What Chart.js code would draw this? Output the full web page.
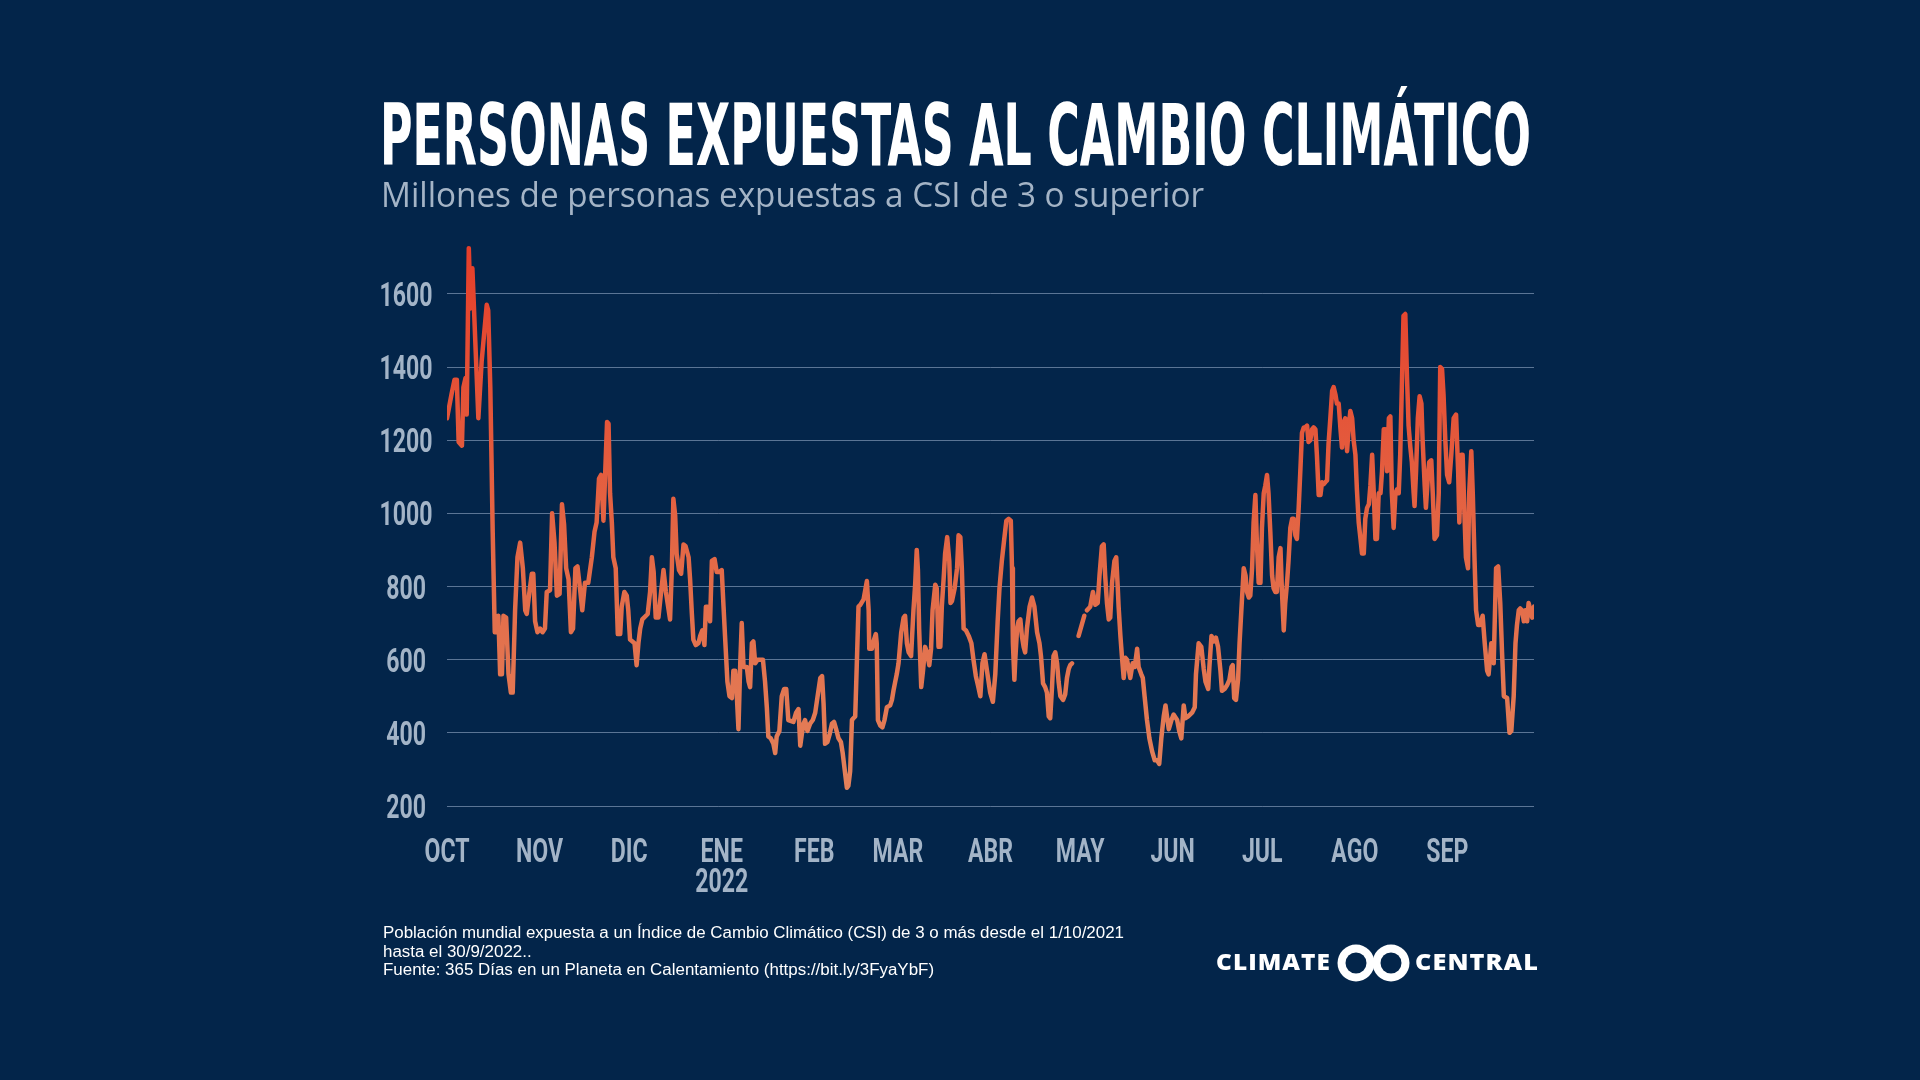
<!DOCTYPE html>
<html>
<head>
<meta charset="utf-8">
<script src="https://cdn.jsdelivr.net/npm/chart.js@4.4.0/dist/chart.umd.min.js"></script>
<style>
  body { margin: 0; background: #03254a; }
  #page { position: relative; width: 1920px; height: 1080px; background: #03254a; overflow: hidden; }
  #chart { position: absolute; left: 0; top: 0; }
  .fit { position: absolute; white-space: nowrap; transform-origin: 0 0; }
  #title { left: 380px; top: 92px; font: bold 86px "Liberation Sans Narrow", "DejaVu Sans Condensed", sans-serif; line-height: 1; color: #fff; }
  #subtitle { left: 381px; top: 176px; font: 35px "Open Sans", sans-serif; line-height: 1; color: #a4b4c6; }
  .note { left: 383px; font: 16px "Liberation Sans", Arial, sans-serif; line-height: 18.5px; color: #fff; }
  .logo { font: 800 23px "Open Sans", sans-serif; line-height: 1; color: #fff; letter-spacing: 1px; top: 950px; }
  #rings { position: absolute; left: 1336px; top: 943px; }
</style>
</head>
<body>
<div id="page">
  <canvas id="chart" width="1920" height="1080"></canvas>
  <div id="title" class="fit">PERSONAS EXPUESTAS AL CAMBIO CLIMÁTICO</div>
  <div id="subtitle" class="fit">Millones de personas expuestas a CSI de 3 o superior</div>
  <div id="note1" class="fit note" style="top:924px">Población mundial expuesta a un Índice de Cambio Climático (CSI) de 3 o más desde el 1/10/2021</div>
  <div id="note2" class="fit note" style="top:942.5px">hasta el 30/9/2022..</div>
  <div id="note3" class="fit note" style="top:961px">Fuente: 365 Días en un Planeta en Calentamiento (https://bit.ly/3FyaYbF)</div>
  <div id="logo1" class="fit logo" style="left:1216px">CLIMATE</div>
  <svg id="rings" width="76" height="40">
    <circle cx="20" cy="20" r="18.5" fill="#fff"/>
    <circle cx="55" cy="20" r="18.5" fill="#fff"/>
    <circle cx="20" cy="20" r="10.5" fill="#03254a"/>
    <circle cx="55" cy="20" r="10.5" fill="#03254a"/>
  </svg>
  <div id="logo2" class="fit logo" style="left:1415px">CENTRAL</div>
</div>
<script>
// month start positions (day index from 1 Oct 2021) and axis labels
const monthStarts = [0, 31, 61, 92, 123, 151, 182, 212, 243, 273, 304, 335];
const monthLabels = ["OCT", "NOV", "DIC", ["ENE", "2022"], "FEB", "MAR", "ABR", "MAY", "JUN", "JUL", "AGO", "SEP"];
const yTicks = [200, 400, 600, 800, 1000, 1200, 1400, 1600];

// [day, millions of people], month by month
const oct = [[0,1260],[1.5,1325],[2.5,1365],[3.3,1365],[3.9,1195],[5,1185],[5.5,1345],[6.2,1370],[6.6,1270],[7.3,1725],
  [7.9,1560],[8.5,1670],[10.5,1260],[11.6,1415],[13.3,1570],[13.8,1555],[14.5,1345],[15.3,950],[16,675],[16.6,675],
  [17.2,720],[17.8,560],[18.4,560],[18.9,720],[19.8,715],[20.6,560],[21.4,510],[22,510],[22.8,735],[23.6,880],
  [24.5,920],[25.4,850],[26.2,735],[26.7,725],[27.6,785],[28.4,835],[28.9,835],[29.5,705],[30.3,675]];
const nov = [[31.2,685],[32,675],[32.8,685],[33.4,785],[34.5,790],[35.2,1000],[36,920],[36.8,775],[37.7,780],[38.5,1025],
  [39.2,970],[39.9,850],[40.7,820],[41.5,675],[42.2,685],[43,850],[43.7,855],[44.6,790],[45.3,735],[46.2,810],
  [47.3,810],[48.5,880],[49.4,950],[50.1,975],[50.9,1095],[51.6,1105],[52.4,980],[53.6,1250],[54.1,1245],[54.6,1055],
  [55.2,975],[55.7,880],[56.5,850],[57.2,670],[58,670],[58.5,745],[59.4,785],[60.2,775],[60.7,735]];
const dec = [[61.3,655],[62.8,645],[63.5,585],[64.1,645],[64.7,685],[65.4,710],[67.2,725],[68,785],[68.6,880],[69.2,840],
  [69.9,715],[70.8,715],[71.7,785],[72.5,845],[73.3,785],[74.7,710],[75.3,850],[75.8,1040],[76.4,995],[76.9,890],
  [77.7,845],[78.4,835],[79.2,915],[79.9,910],[80.9,880],[81.4,820],[82,725],[82.5,655],[83.3,640],[84.2,645],
  [84.8,665],[85.5,680],[86.2,640],[86.7,745],[87.3,745],[88.1,705],[88.7,870],[89.6,875],[90.3,840],[91.2,840]];
const jan = [[92,845],[92.6,745],[93.1,665],[93.9,540],[94.6,500],[95.4,495],[95.9,570],[96.5,570],[97,510],[97.6,410],
  [98.2,590],[98.7,700],[99.3,580],[100.4,580],[101,540],[101.5,525],[102.1,645],[102.6,650],[103.2,590],[104,600],
  [105.8,600],[106.5,540],[107.1,470],[107.6,390],[108.4,385],[109.3,370],[109.9,345],[110.4,390],[111.3,405],[112.1,500],
  [112.9,520],[113.6,520],[114.3,435],[116,430],[116.9,455],[117.7,465],[118.3,365],[118.8,395],[119.4,425],[119.9,435],
  [120.7,405],[121.6,425],[122.5,435]];
const feb = [[123.3,455],[124.1,500],[125,550],[125.6,555],[126.1,480],[126.6,370],[127.4,375],[128.1,395],[128.9,425],[129.6,430],
  [130.3,410],[131.1,385],[131.9,375],[132.5,345],[133.9,250],[134.4,255],[135,295],[135.6,435],[136.1,440],[136.7,445],
  [137.2,580],[137.8,745],[138.4,750],[139.5,765],[140.6,815],[141.2,735],[141.4,630],[142.3,630],[142.8,650],[143.6,670],
  [143.9,645],[144.3,435],[145.1,420],[145.8,415],[146.5,435],[147.3,470],[148.4,475],[149,490],[149.5,515],[150.1,540],
  [150.6,560]];
const mar = [[151.2,590],[152.1,675],[152.9,715],[153.4,720],[154,645],[154.6,620],[155.4,610],[156.2,735],[156.8,810],[157.3,900],
  [157.7,845],[158.1,685],[158.8,525],[159.4,570],[160.1,635],[160.7,620],[161.5,585],[162.1,630],[162.6,735],[163.5,805],
  [164,795],[164.6,635],[165.2,635],[165.7,745],[166.3,820],[166.8,890],[167.5,935],[168.2,870],[168.6,755],[169.1,760],
  [170,795],[170.8,850],[171.3,940],[171.9,935],[172.4,850],[173,685],[173.8,680],[174.7,665],[175.6,645],[176.3,600],
  [177.1,555],[177.8,530],[178.6,500],[179.3,590],[180,615],[181,560],[181.9,510]];
const abr = [[182.8,485],[183.6,560],[184.4,705],[185,795],[185.8,870],[186.6,930],[187.3,980],[188.1,985],[188.8,980],[189.2,850],
  [189.5,645],[190,545],[190.3,600],[190.9,685],[191.4,705],[192,710],[192.5,665],[193.1,635],[193.6,620],[194.2,685],
  [195.1,745],[195.9,770],[196.7,745],[197.6,675],[198.4,645],[198.9,610],[199.6,535],[200.3,525],[200.9,510],[201.5,445],
  [202,440],[202.6,525],[203.1,610],[203.7,620],[204.3,590],[204.8,540],[205.4,500],[206.3,490],[207,505],[207.6,550],
  [208.2,575],[208.7,585],[209.3,590],[210.4,null],[211.5,665]];
const may = [[213.4,720],[213.9,null],[214.3,735],[215.4,745],[216.3,785],[217.1,750],[217.9,755],[218.5,830],[219.3,910],[219.9,915],
  [220.4,830],[221,755],[221.6,710],[222.1,715],[222.7,810],[223.5,870],[224.1,880],[224.6,800],[224.9,745],[225.5,665],
  [226,610],[226.6,550],[227.2,605],[227.7,600],[228.3,575],[228.8,550],[229.6,590],[230.3,580],[231.1,630],[231.6,580],
  [232.5,560],[233,550],[233.6,500],[234.4,435],[235.2,385],[236.1,350],[237,325],[237.8,325],[238.5,315],[239.2,385],
  [240,445],[240.6,475],[241.1,445],[241.7,410],[242.6,435]];
const jun = [[243.3,450],[244.5,435],[245.2,405],[245.9,385],[246.7,475],[247.3,440],[248.2,445],[249.5,455],[250.4,470],[250.8,560],
  [251.7,645],[252.6,635],[253.4,575],[254,540],[254.9,520],[255.3,580],[256,665],[256.8,650],[257.5,660],[258.2,635],
  [259,570],[259.5,515],[260.4,520],[261.2,530],[262,545],[262.7,580],[263.1,585],[263.6,495],[264.2,490],[264.9,545],
  [265.4,645],[266,735],[266.8,850],[267.4,830],[267.9,785],[268.5,770],[269,775],[269.6,850],[270.1,975],[270.7,1050],
  [271.2,920],[271.8,810],[272.4,810],[272.9,960]];
const jul = [[273.5,1055],[274,1075],[274.6,1105],[275.1,1055],[275.7,950],[276.3,830],[276.8,795],[277.4,785],[277.9,785],[278.5,880],
  [279.1,905],[279.6,785],[280.2,680],[280.7,755],[281.3,810],[281.8,870],[282.4,960],[283,985],[283.5,985],[284.1,940],
  [284.6,930],[285.2,1015],[285.8,1125],[286.3,1220],[286.9,1235],[287.4,1235],[288,1240],[288.5,1195],[289.1,1200],[289.7,1230],
  [290.2,1235],[290.8,1230],[291.3,1160],[291.9,1050],[292.5,1050],[293,1085],[293.6,1080],[294.1,1085],[294.7,1090],[295.2,1190],
  [295.8,1260],[296.4,1335],[296.9,1345],[297.5,1325],[298,1300],[298.6,1300],[299.2,1230],[299.7,1180],[300.3,1250],[300.8,1260],
  [301.4,1170],[302,1240],[302.5,1280],[303.1,1260],[303.6,1200]];
const ago = [[304.2,1160],[304.7,1065],[305.3,975],[305.9,930],[306.4,890],[307,890],[307.5,985],[308.1,1015],[308.7,1025],[309.2,1075],
  [309.8,1160],[310.3,1065],[310.9,930],[311.4,930],[312,1055],[312.6,1055],[313.1,1115],[313.7,1230],[314.2,1230],[314.8,1115],
  [315.4,1260],[315.9,1265],[316.4,1055],[317,960],[317.6,1055],[318.1,1065],[318.7,1055],[319.2,1160],[319.8,1365],[320.3,1540],
  [320.9,1545],[321.5,1365],[322,1240],[322.6,1180],[323.1,1140],[323.7,1055],[324,1020],[324.5,1115],[325.1,1260],[325.7,1320],
  [326.3,1300],[326.7,1200],[327.4,1075],[327.8,1015],[328.5,1105],[328.9,1140],[329.6,1145],[330.1,1055],[330.7,930],[331.5,940],
  [332.1,1055],[332.6,1400],[333.2,1395],[333.7,1325],[334.3,1200],[334.9,1105]];
const sep = [[335.6,1085],[336.3,1160],[337.1,1260],[337.9,1270],[338.6,1115],[339,975],[339.7,1160],[340.1,1160],[340.8,975],[341.2,880],
  [341.9,850],[342.3,1055],[343,1170],[343.5,1055],[344.1,870],[344.6,735],[345.3,695],[346,695],[346.8,720],[347.5,645],
  [348.3,570],[348.8,560],[349.7,645],[350.5,590],[351.3,850],[352,855],[352.7,755],[353.3,620],[353.9,500],[355,495],
  [355.8,400],[356.4,405],[357.2,500],[357.8,645],[358.3,695],[358.9,735],[359.4,740],[360,735],[360.6,705],[361.1,735],
  [361.7,705],[362.2,755],[362.8,735],[363.4,715],[364,745]];

const readings = [].concat(oct, nov, dec, jan, feb, mar, abr, may, jun, jul, ago, sep);

const tickColor = "#a3b4c7";

function lineGradient(context) {
  const area = context.chart.chartArea;
  if (!area) return "#e4623f";
  const g = context.chart.ctx.createLinearGradient(0, area.bottom, 0, area.top);
  g.addColorStop(0, "#e3835c");
  g.addColorStop(0.45, "#e36846");
  g.addColorStop(1, "#e63d29");
  return g;
}

// the tick labels are a tall condensed face: draw them squeezed at the scale positions
const squeezedTicks = {
  id: "squeezedTicks",
  afterDraw(chart) {
    const ctx = chart.ctx;
    const xs = chart.scales.x, ys = chart.scales.y, area = chart.chartArea;
    ctx.save();
    ctx.font = "bold 34px Roboto";
    ctx.fillStyle = tickColor;
    ctx.textAlign = "center";
    ctx.textBaseline = "alphabetic";
    const k = 53 / ctx.measureText("1600").width;
    const put = (txt, x, y) => {
      ctx.save();
      ctx.translate(x, y + 12);
      ctx.scale(k, 1);
      ctx.fillText(txt, 0, 0);
      ctx.restore();
    };
    ys.ticks.forEach(t => put(String(t.value), area.left - 41, ys.getPixelForValue(t.value)));
    xs.ticks.forEach((t, i) => {
      [].concat(monthLabels[i]).forEach((line, j) => put(line, xs.getPixelForValue(t.value), area.bottom + 44 + j * 30));
    });
    ctx.restore();
  }
};

new Chart(document.getElementById("chart"), {
  type: "line",
  data: {
    datasets: [{
      data: readings.map(r => ({ x: r[0], y: r[1] })),
      borderColor: lineGradient,
      borderWidth: 4.5,
      borderJoinStyle: "round",
      borderCapStyle: "round",
      pointRadius: 0,
      tension: 0,
      spanGaps: false,
      fill: false
    }]
  },
  options: {
    responsive: false,
    devicePixelRatio: 1,
    animation: false,
    layout: { padding: { left: 307, right: 386, top: 239, bottom: 174 } },
    plugins: { legend: { display: false }, tooltip: { enabled: false } },
    scales: {
      x: {
        type: "linear",
        min: 0,
        max: 364,
        grid: { display: false },
        border: { display: false },
        afterBuildTicks: s => { s.ticks = monthStarts.map(v => ({ value: v })); },
        afterFit: s => { s.height = 100; },
        ticks: { display: false, autoSkip: false }
      },
      y: {
        min: 200,
        max: 1750,
        afterBuildTicks: s => { s.ticks = yTicks.map(v => ({ value: v })); },
        afterFit: s => { s.width = 140; },
        grid: { color: "rgba(150,172,200,0.6)", lineWidth: 1, drawTicks: false },
        border: { display: false },
        ticks: { display: false }
      }
    }
  },
  plugins: [squeezedTicks]
});

// squeeze text blocks to the widths they take in the picture
function fitWidth(id, target) {
  const el = document.getElementById(id);
  const k = target / el.getBoundingClientRect().width;
  el.style.transform = "scaleX(" + k + ")";
  return k;
}
fitWidth("title", 1151);
fitWidth("subtitle", 823);
const k = fitWidth("note1", 741);
document.getElementById("note2").style.transform = "scaleX(" + k + ")";
document.getElementById("note3").style.transform = "scaleX(" + k + ")";
fitWidth("logo1", 115);
fitWidth("logo2", 124);
</script>
</body>
</html>
